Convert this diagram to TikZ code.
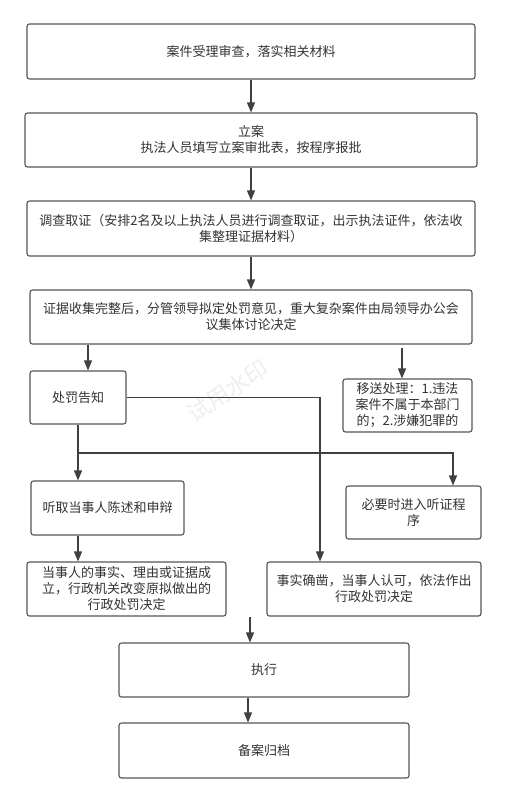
\documentclass[tikz,border=0pt]{standalone}
\usepackage{fontspec}
\newfontfamily\cjk{Noto Sans CJK SC}
\usetikzlibrary{arrows.meta}
\definecolor{linegray}{HTML}{404040}
\definecolor{boxgray}{HTML}{555555}
\definecolor{textgray}{HTML}{333333}

\begin{document}
\begin{tikzpicture}[x=1pt,y=-1pt,
  box/.style={draw=boxgray,line width=1.1pt,rounded corners=2.5pt,align=center,inner sep=0pt,
    text=textgray,font=\cjk\fontsize{13}{16}\selectfont},
  arr/.style={draw=linegray,line width=1.3pt,-{Triangle[length=10pt,width=8pt]}}]
\useasboundingbox[fill=white] (0,0) rectangle (506,803);

\node[rotate=33.5,text=gray!13,font=\cjk\fontsize{23}{23}\selectfont] (wm) at (228,391) {试用水印};

\node[box,minimum width=448pt,minimum height=55pt] (n1) at (251,51.5) {案件受理审查，落实相关材料};
\node[box,minimum width=452pt,minimum height=54pt] (n2) at (251,140) {立案\\执法人员填写立案审批表，按程序报批};
\node[box,minimum width=448pt,minimum height=55pt] (n3) at (251,228.5) {调查取证（安排2名及以上执法人员进行调查取证，出示执法证件，依法收\\集整理证据材料）};
\node[box,minimum width=442pt,minimum height=54pt] (n4) at (251,317) {证据收集完整后，分管领导拟定处罚意见，重大复杂案件由局领导办公会\\议集体讨论决定};

\node[box,minimum width=96pt,minimum height=53pt] (n5) at (78,397.5) {处罚告知};
\node[box,minimum width=129pt,minimum height=53pt] (n6) at (407.5,405.5) {移送处理：1.违法\\案件不属于本部门\\的；2.涉嫌犯罪的};
\node[box,minimum width=153pt,minimum height=54pt] (n7) at (107.5,508) {听取当事人陈述和申辩};
\node[box,minimum width=135pt,minimum height=53pt] (n8) at (413.5,512.5) {必要时进入听证程\\序};
\node[box,minimum width=199pt,minimum height=54pt] (n9) at (126.5,589) {当事人的事实、理由或证据成\\立，行政机关改变原拟做出的\\行政处罚决定};
\node[box,minimum width=214pt,minimum height=54pt] (n10) at (374,589) {事实确凿，当事人认可，依法作出\\行政处罚决定};
\node[box,minimum width=290pt,minimum height=54pt] (n11) at (264,670) {执行};
\node[box,minimum width=290pt,minimum height=55pt] (n12) at (264,750.5) {备案归档};

\coordinate (t5) at ([xshift=10pt]n5.north);
\coordinate (s6) at (402,348);
\coordinate (t6) at (s6 |- n6.north);
\coordinate (j) at (78,453);
\coordinate (t8) at ([xshift=39.5pt]n8.north);
\coordinate (t10) at ([xshift=-54pt]n10.north);
\coordinate (s11) at (250,617);
\coordinate (t11) at (s11 |- n11.north);

\draw[arr] (n1) -- (n2);
\draw[arr] (n2) -- (n3);
\draw[arr] (n3) -- (n4);
\draw[arr] (t5 |- n4.south) -- (t5);
\draw[arr] (s6) -- (t6);
\draw[arr] (n5.east) -| (t10);
\draw[arr] (n5.south) -- (n5.south |- n7.north);
\draw[arr] (j) -| (t8);
\draw[arr] (n5.south |- n7.south) -- (n5.south |- n9.north);
\draw[arr] (s11) -- (t11);
\draw[arr] ([xshift=-16pt]n11.south) -- ([xshift=-16pt]n12.north);

\end{tikzpicture}
\end{document}
